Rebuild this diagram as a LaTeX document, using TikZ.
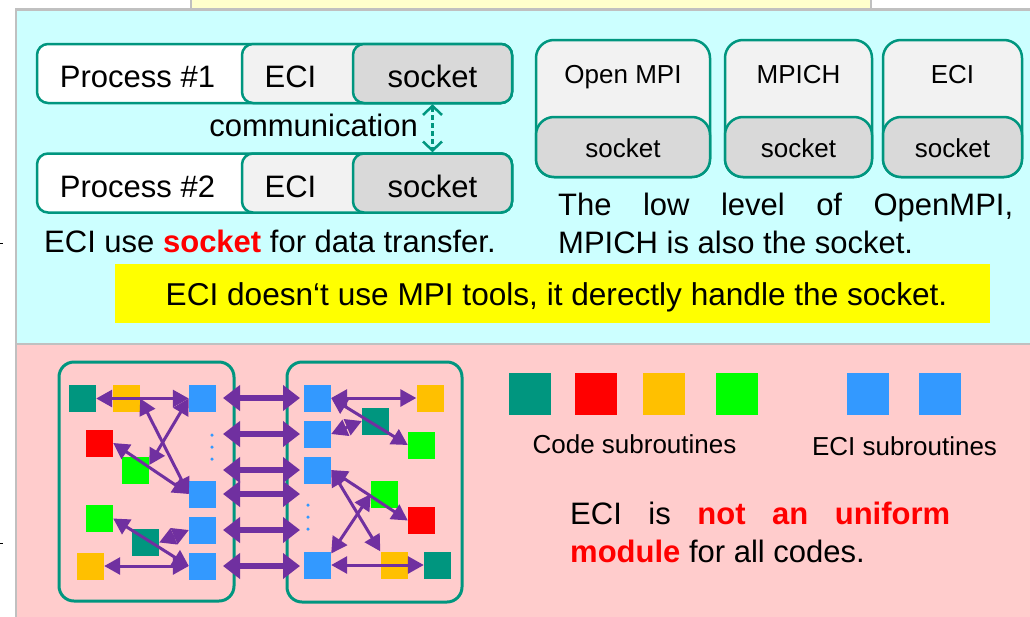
\documentclass[tikz,border=0pt]{standalone}
\usepackage{fontspec}
\setmainfont{Liberation Sans}
\usetikzlibrary{arrows.meta,calc}
\definecolor{cyanbg}{HTML}{CCFFFF}
\definecolor{pinkbg}{HTML}{FFCCCC}
\definecolor{panelgray}{HTML}{C0C0C0}
\definecolor{paleyellow}{HTML}{FFFFCC}
\definecolor{tealc}{HTML}{00967F}
\definecolor{ecifill}{HTML}{F2F2F2}
\definecolor{sockfill}{HTML}{D9D9D9}
\definecolor{hlyellow}{HTML}{FFFF00}
\definecolor{purp}{HTML}{7030A0}
\definecolor{bluesq}{HTML}{3399FF}
\definecolor{orsq}{HTML}{FFC000}
\definecolor{grsq}{HTML}{00FF00}
\definecolor{rdsq}{HTML}{FF0000}
\begin{document}
\begin{tikzpicture}[x=1pt,y=-1pt,
 txt/.style={inner sep=0pt, font=\fontsize{31}{37}\selectfont, anchor=base},
 stxt/.style={inner sep=0pt, font=\fontsize{26}{31}\selectfont, anchor=base},
 rowbox/.style={draw=tealc, line width=2.5pt, rounded corners=11pt, inner sep=0pt, minimum height=59pt},
 libbox/.style={draw=tealc, line width=2.5pt, rounded corners=18pt, inner sep=0pt, fill=ecifill, minimum height=137pt},
 libsock/.style={draw=tealc, line width=2.5pt, rounded corners=18pt, inner sep=0pt, fill=sockfill, minimum height=60pt},
 sq/.style={inner sep=0pt, minimum size=27pt, fill=#1},
 bigsq/.style={inner sep=0pt, minimum size=42pt, fill=#1},
 link/.style={purp, line width=3pt, {Triangle[length=16pt,width=17pt]}-{Triangle[length=16pt,width=17pt]}},
 bus/.style={purp, line width=6pt, {Triangle[length=17pt,width=25pt]}-{Triangle[length=17pt,width=25pt]}},
 cont/.style={draw=tealc, line width=3pt, rounded corners=15pt, inner sep=0pt},
 dot/.style={circle, fill=bluesq, inner sep=0pt, minimum size=3.5pt},
 panel/.style={draw=panelgray, line width=2.5pt},
]
\useasboundingbox (0,0) rectangle (1030,616);
\fill[white] (0,0) rectangle (1030,616);
% frame of the slide
\draw[panel, line width=2pt, fill=paleyellow] (191,-5) rectangle (871,9);
\draw[panel, fill=cyanbg] (16,9.5) rectangle (1036,344);
\draw[panel, fill=pinkbg] (16,344) rectangle (1036,622);
\draw[line width=0.6pt] (0,243.5) -- (2.5,243.5);
\draw[line width=0.6pt] (0,543) -- (2.5,543);

% process rows
\node[rowbox, fill=white, minimum width=475pt] (pbox1) at (274.5,73.5) {};
\node[rowbox, fill=ecifill, minimum width=270pt] (ebox1) at (377,73.5) {};
\node[rowbox, fill=sockfill, minimum width=159pt] (sbox1) at (432.5,73.5) {};
\node[txt] (p1t) at (137.5,87) {Process \#1};
\node[txt] (e1t) at (290.5,87) {ECI};
\node[txt] (s1t) at (432.5,87) {socket};

\node[rowbox, fill=white, minimum width=475pt] (pbox2) at (274.5,183) {};
\node[rowbox, fill=ecifill, minimum width=270pt] (ebox2) at (377,183) {};
\node[rowbox, fill=sockfill, minimum width=159pt] (sbox2) at (432.5,183) {};
\node[txt] (p2t) at (137.5,197) {Process \#2};
\node[txt] (e2t) at (290.5,197) {ECI};
\node[txt] (s2t) at (432.5,197) {socket};

\draw[tealc, line width=2.5pt, dash pattern=on 5pt off 3pt,
  {Straight Barb[length=9pt,width=19pt]}-{Straight Barb[length=9pt,width=19pt]}] (sbox1.south) -- (sbox2.north);
\node[txt, anchor=base east] (comm) at (418,136) {communication};
\node[txt, anchor=base west] (cap1) at (44,252) {ECI use \textcolor{red}{\bfseries socket} for data transfer.};

% library boxes
\node[libbox, minimum width=174pt] (ompi) at (623,108.5) {};
\node[libsock, minimum width=174pt] (ompis) at (623,147) {};
\node[stxt] (ompit) at (623,83) {Open MPI};
\node[stxt] (ompist) at (623,157) {socket};

\node[libbox, minimum width=147pt] (mpich) at (798.5,108.5) {};
\node[libsock, minimum width=147pt] (mpichs) at (798.5,147) {};
\node[stxt] (mpicht) at (798.5,83) {MPICH};
\node[stxt] (mpichst) at (798.5,157) {socket};

\node[libbox, minimum width=139pt] (eci) at (952.5,108.5) {};
\node[libsock, minimum width=139pt] (ecis) at (952.5,147) {};
\node[stxt] (ecit) at (952.5,83) {ECI};
\node[stxt] (ecist) at (952.5,157) {socket};

\node[txt, anchor=base west] (low1) at (558,215) {\makebox[455pt][l]{The\hfill low\hfill level\hfill of\hfill OpenMPI,}};
\node[txt, anchor=base west] (low2) at (558,253) {MPICH is also the socket.};

% highlighted statement
\node[fill=hlyellow, inner sep=0pt, minimum width=875pt, minimum height=59pt] (hl) at (552.5,293.5) {};
\node[txt, font=\fontsize{31.6}{37}\selectfont] (hlt) at (556.5,305) {ECI doesn‘t use MPI tools, it derectly handle the socket.};

% containers
\node[cont, minimum width=175pt, minimum height=239pt] (lcont) at (146.5,481.5) {};
\node[cont, minimum width=175pt, minimum height=240pt] (rcont) at (374.5,482) {};

% left squares
\node[sq=tealc] (lt1) at (82.5,398.5) {};
\node[sq=orsq] (ly1) at (126.5,398.5) {};
\node[sq=bluesq] (lb1) at (202.5,398.5) {};
\node[sq=rdsq] (lr1) at (99.5,443) {};
\node[sq=grsq] (lg1) at (135.5,470) {};
\node[sq=bluesq] (lb2) at (202.5,494) {};
\node[sq=grsq] (lg2) at (99.5,518.5) {};
\node[sq=tealc] (lt2) at (145.5,542.5) {};
\node[sq=bluesq] (lb3) at (202.5,530) {};
\node[sq=orsq] (ly2) at (90.5,566) {};
\node[sq=bluesq] (lb4) at (202.5,566) {};
\node[dot] (ld1) at (212,435) {};
\node[dot] (ld2) at (212,447) {};
\node[dot] (ld3) at (212,459) {};

% right squares
\node[sq=bluesq] (rb1) at (317.5,398) {};
\node[sq=bluesq] (rb2) at (317.5,434) {};
\node[sq=bluesq] (rb3) at (317.5,470) {};
\node[sq=bluesq] (rb4) at (317.5,565) {};
\node[sq=orsq] (ry1) at (430,398) {};
\node[sq=tealc] (rt1) at (375.5,421) {};
\node[sq=grsq] (rg1) at (421.5,445) {};
\node[sq=grsq] (rg2) at (384.5,494) {};
\node[sq=rdsq] (rr1) at (421.5,520.5) {};
\node[sq=orsq] (ry2) at (394,565) {};
\node[sq=tealc] (rt2) at (437.5,565) {};
\node[dot] (rd1) at (308,505) {};
\node[dot] (rd2) at (308,517) {};
\node[dot] (rd3) at (308,529) {};

% left links
\draw[link] (lt1.east) -- (lb1.west);
\draw[link] (ly1.east) -- (lb2.west);
\draw[link] (lb1.west) -- (lg1.20);
\draw[link] (lr1.east) -- (lb2.west);
\draw[link] (lg2.east) -- (lb4.west);
\draw[link] (lt2.east) -- (lb3.west);
\draw[link] (ly2.east) -- (lb4.west);

% right links
\draw[link] (rb1.east) -- (ry1.west);
\draw[link] (rb1.east) -- (rg1.west);
\draw[link] (rb2.east) -- (rt1.west);
\draw[link] (rb3.east) -- (rr1.west);
\draw[link] (rb3.east) -- (ry2.north west);
\draw[link] (rb4.40) -- (rg2.west);
\draw[link] (rb4.east) -- (rt2.west);

% bus between the two groups
\coordinate (m1l) at (223,398); \coordinate (m1r) at (300,398);
\coordinate (m2l) at (223,434); \coordinate (m2r) at (300,434);
\coordinate (m3l) at (223,470); \coordinate (m3r) at (300,470);
\coordinate (m4l) at (223,494); \coordinate (m4r) at (300,494);
\coordinate (m5l) at (223,530); \coordinate (m5r) at (300,530);
\coordinate (m6l) at (223,566); \coordinate (m6r) at (300,566);
\foreach \i in {1,...,6} {\draw[bus] (m\i l) -- (m\i r);}

% legend
\node[bigsq=tealc] (k1) at (530,394) {};
\node[bigsq=rdsq] (k2) at (596,394) {};
\node[bigsq=orsq] (k3) at (664,394) {};
\node[bigsq=grsq] (k4) at (737,394) {};
\node[bigsq=bluesq] (k5) at (868,394) {};
\node[bigsq=bluesq] (k6) at (940,394) {};
\node[stxt] (codel) at (634.5,453) {Code subroutines};
\node[stxt] (ecil) at (904.5,455) {ECI subroutines};

\node[txt, anchor=base west] (uni1) at (570,524) {\makebox[380pt][l]{ECI\hfill is\hfill \textcolor{red}{\bfseries not}\hfill \textcolor{red}{\bfseries an}\hfill \textcolor{red}{\bfseries uniform}}};
\node[txt, anchor=base west] (uni2) at (570,562) {\textcolor{red}{\bfseries module} for all codes.};
\end{tikzpicture}
\end{document}
